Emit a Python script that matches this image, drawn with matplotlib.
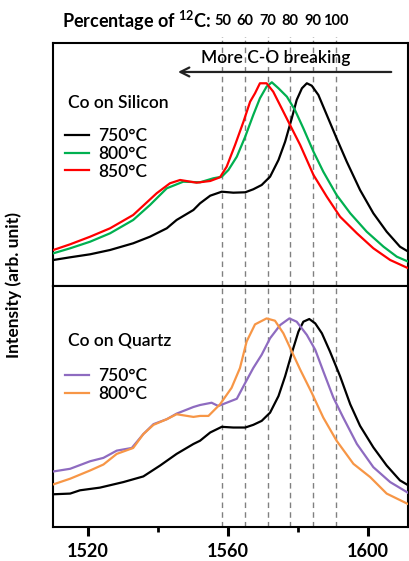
import matplotlib
matplotlib.use("Agg")
import matplotlib.pyplot as plt
from matplotlib.lines import Line2D
from matplotlib.ticker import MultipleLocator

plt.rcParams['font.family'] = ['Lato', 'DejaVu Sans']
plt.rcParams['font.weight'] = 'semibold'

# Raman G band, Co on silicon (wavenumber cm^-1, intensity arb.)
si750_x = [1510.1, 1514.9, 1520.6, 1526.3, 1532.9, 1537.7, 1542.5, 1545.3, 1550.1, 1552.0,
           1554.9, 1558.2, 1561.5, 1564.9, 1567.2, 1569.6, 1572.0, 1574.4, 1576.3, 1578.2,
           1579.6, 1581.1, 1582.5, 1583.9, 1585.8, 1588.2, 1591.0, 1593.9, 1597.7, 1601.5,
           1605.3, 1609.1, 1611.5]
si750_y = [26, 28.7, 31.7, 36, 42.7, 49.3, 57.7, 66, 76, 82.7,
           90.3, 94.3, 93.3, 93.7, 96.7, 101, 109.3, 126, 144.3, 167.7,
           186, 197.7, 202.7, 200.3, 191, 171, 147.7, 124.3, 96, 72.7,
           54.3, 39.3, 34.3]

si800_x = [1510.1, 1514.9, 1520.6, 1526.3, 1532.9, 1537.7, 1542.5, 1547.2, 1552.0, 1555.8,
           1558.2, 1560.1, 1562.5, 1564.9, 1567.2, 1569.1, 1571.0, 1572.5, 1574.4, 1576.8,
           1579.1, 1581.5, 1584.4, 1587.2, 1591.0, 1594.9, 1599.6, 1604.4, 1608.2, 1611.5]
si800_y = [32.7, 37.7, 44.3, 52.7, 66, 81, 97.7, 104.3, 103.7, 107.7,
           109.3, 116, 129.3, 149.3, 171, 187.7, 199.3, 203.7, 197.7, 189.3,
           176, 157.7, 134.3, 114.3, 91, 72.7, 54.3, 39.3, 29.3, 24.3]

si850_x = [1510.1, 1514.9, 1520.6, 1526.3, 1532.9, 1539.6, 1543.4, 1546.3, 1551.0, 1554.9,
           1557.7, 1559.6, 1562.0, 1564.4, 1566.3, 1567.7, 1569.1, 1571.0, 1572.9, 1575.3,
           1577.7, 1580.6, 1584.4, 1588.2, 1592.0, 1596.8, 1601.5, 1606.3, 1611.5]
si850_y = [36, 41.7, 49.3, 57.7, 71, 92.7, 102.7, 106, 103.3, 105,
           108.7, 119.3, 141, 164.3, 184.3, 192.7, 202.7, 202.7, 194.3, 177.7,
           161, 141, 111, 89.3, 69.3, 52.7, 37.7, 26, 17.7]

# Co on quartz
qz750b_x = [1510.1, 1514.9, 1517.7, 1523.4, 1530.1, 1535.8, 1540.6, 1545.3, 1550.1, 1552.0,
            1554.9, 1558.2, 1561.5, 1564.9, 1567.2, 1569.6, 1572.0, 1574.4, 1576.3, 1578.2,
            1580.1, 1581.5, 1583.2, 1584.9, 1586.8, 1589.1, 1592.0, 1594.9, 1597.7, 1601.5,
            1605.3, 1609.1, 1611.5]
qz750b_y = [33, 33.7, 37, 39.7, 45.3, 51, 62, 73.7, 83.7, 87,
            95.3, 101, 100.3, 100.3, 103, 107, 115.3, 132, 152, 175.3,
            197, 207, 209.7, 205.3, 195.3, 177, 152, 123.7, 102, 80.3,
            62, 47, 42]

qz750_x = [1510.1, 1514.9, 1520.6, 1524.4, 1528.2, 1532.5, 1535.8, 1538.7, 1542.5, 1545.3,
           1550.1, 1552.0, 1555.3, 1557.2, 1559.6, 1562.5, 1564.9, 1567.2, 1569.6, 1572.0,
           1574.9, 1577.5, 1579.6, 1582.5, 1584.9, 1587.2, 1590.1, 1592.9, 1596.8, 1601.5,
           1606.3, 1611.5]
qz750_y = [56, 58.7, 66.3, 69.7, 77, 79.7, 93.7, 103.7, 108.7, 114.3,
           121, 123, 125.3, 122, 125.3, 129.3, 145.3, 160.3, 173.7, 190.3,
           203.7, 210.3, 207, 193.7, 178.7, 157, 130.3, 110.3, 83.7, 60.3,
           45.3, 34.3]

qz800_x = [1510.1, 1514.9, 1520.6, 1524.4, 1528.2, 1532.9, 1535.8, 1538.7, 1542.5, 1545.3,
           1550.1, 1552.0, 1554.4, 1557.7, 1561.0, 1563.4, 1565.3, 1567.7, 1571.0, 1573.4,
           1575.8, 1578.2, 1580.6, 1583.9, 1587.2, 1591.0, 1595.8, 1600.6, 1605.3, 1611.5]
qz800_y = [43, 48.7, 57, 63, 73.7, 79.7, 93.7, 103, 108.7, 113.7,
           111, 112, 112, 123.7, 140.3, 160.3, 187, 204.3, 210.3, 208,
           195.3, 177, 158.7, 135.3, 110.3, 87, 63.7, 50.3, 33.7, 23]

# isotope marker positions and labels
pct_x = [1558.4, 1564.9, 1571.3, 1577.7, 1584.2, 1590.7]
pct_labels = ['50', '60', '70', '80', '90', '100']

BLACK = '#000000'
GREEN = '#00B050'
RED = '#FF0000'
PURPLE = '#8E6BC0'
ORANGE = '#F79646'
FS = 12.5

fig = plt.figure(figsize=(4.09, 5.61), dpi=100)
ax1 = fig.add_axes([0.1296, 0.4902, 0.868, 0.4332])
ax2 = fig.add_axes([0.1296, 0.0606, 0.868, 0.4296])

for ax in (ax1, ax2):
    ax.set_xlim(1510, 1611.4)
    ax.set_ylim(0, 243)
    ax.set_yticks([])
    for s in ax.spines.values():
        s.set_linewidth(1.5)
    for xv in pct_x:
        ax.axvline(xv, color='#808080', lw=1, ls=(0, (4, 3)), zorder=1)

ax1.set_xticks([])
ax2.xaxis.set_major_locator(MultipleLocator(40))
ax2.xaxis.set_minor_locator(MultipleLocator(20))
ax2.tick_params(axis='x', which='major', direction='out', length=6.5, width=2.2, pad=5)
ax2.tick_params(axis='x', which='minor', direction='out', length=3.5, width=2)
for t in ax2.get_xticklabels():
    t.set_fontsize(13)
    t.set_fontweight('bold')

# dashed lines poke above the top panel
for xv, lab in zip(pct_x, pct_labels):
    ax1.add_line(Line2D([xv, xv], [1.0, 1.025], transform=ax1.get_xaxis_transform(),
                        color='#808080', lw=1, ls=(0, (2, 2)), clip_on=False))
    ax1.text(xv, 1.09, lab, transform=ax1.get_xaxis_transform(), ha='center', va='center',
             fontsize=10.5, fontweight='bold')
ax1.text(1555.2, 1.092, 'Percentage of $^{\\mathregular{12}}$C:', transform=ax1.get_xaxis_transform(),
         ha='right', va='center', fontsize=13, fontweight='bold')

l1, = ax1.plot(si750_x, si750_y, color=BLACK, lw=1.6, zorder=3)
l2, = ax1.plot(si800_x, si800_y, color=GREEN, lw=1.6, zorder=3)
l3, = ax1.plot(si850_x, si850_y, color=RED, lw=1.6, zorder=3)

ax2.plot(qz750b_x, qz750b_y, color=BLACK, lw=1.6, zorder=3)
m1, = ax2.plot(qz750_x, qz750_y, color=PURPLE, lw=1.6, zorder=3)
m2, = ax2.plot(qz800_x, qz800_y, color=ORANGE, lw=1.6, zorder=3)

ax1.annotate('', xy=(1544.9, 214), xytext=(1607.4, 214),
             arrowprops=dict(arrowstyle='->', lw=1.6, color='#222222', mutation_scale=16))
ax1.text(1573.7, 228, 'More C-O breaking', ha='center', va='center', fontsize=FS)

ax1.text(0.042, 0.753, 'Co on Silicon', transform=ax1.transAxes, ha='left', va='center', fontsize=FS)
ax1.legend([l1, l2, l3], ['750°C', '800°C', '850°C'],
           loc='upper left', bbox_to_anchor=(0.0, 0.70), frameon=False, fontsize=FS,
           handlelength=1.35, handletextpad=0.55, labelspacing=0.1, borderaxespad=0.3)

ax2.text(0.042, 0.775, 'Co on Quartz', transform=ax2.transAxes, ha='left', va='center', fontsize=FS)
ax2.legend([m1, m2], ['750°C', '800°C'],
           loc='upper left', bbox_to_anchor=(0.0, 0.71), frameon=False, fontsize=FS,
           handlelength=1.35, handletextpad=0.55, labelspacing=0.1, borderaxespad=0.3)

fig.text(0.034, 0.492, 'Intensity (arb. unit)', rotation=90, ha='center', va='center',
         fontsize=FS, fontweight='bold')

fig.savefig('out.png', dpi=100)
